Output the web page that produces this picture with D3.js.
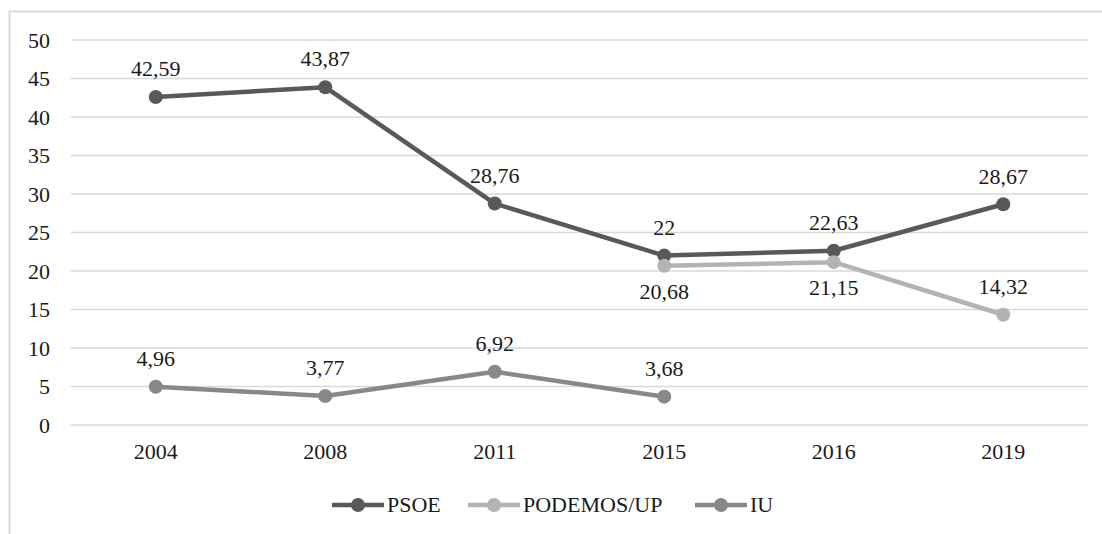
<!DOCTYPE html>
<html lang="es">
<head>
<meta charset="UTF-8">
<title>Voto PSOE, PODEMOS/UP e IU</title>
<script src="https://d3js.org/d3.v7.min.js"></script>
<style>
  body { margin: 0; background: #fff; }
  svg { display: block; }
  .grid line { stroke: #d9d9d9; stroke-width: 1.3; }
  .axis text { font-size: 22px; fill: #1a1a1a; }
  .lbl { font-size: 22px; fill: #1a1a1a; text-anchor: middle; }
</style>
</head>
<body>
<script>
// election years and vote share (%)
const years = ["2004", "2008", "2011", "2015", "2016", "2019"];
const psoe = [42.59, 43.87, 28.76, 22, 22.63, 28.67];
const podemos = [null, null, null, 20.68, 21.15, 14.32];
const iu = [4.96, 3.77, 6.92, 3.68, null, null];
const yTicks = [0, 5, 10, 15, 20, 25, 30, 35, 40, 45, 50];
// where each data label sits: 1 = above the point, -1 = below
const psoeLabelSide = [1, 1, 1, 1, 1, 1];
const podemosLabelSide = [0, 0, 0, -1, -1, 1];
const iuLabelSide = [1, 1, 1, 1, 0, 0];

const series = [
  { name: "PSOE", values: psoe, side: psoeLabelSide, color: "#595959" },
  { name: "PODEMOS/UP", values: podemos, side: podemosLabelSide, color: "#b3b3b3" },
  { name: "IU", values: iu, side: iuLabelSide, color: "#888888" }
];

const serif = "'Liberation Serif', 'Times New Roman', 'DejaVu Serif', serif";
const width = 1102, height = 534;
const svg = d3.select("body").append("svg")
  .attr("width", width).attr("height", height)
  .style("font-family", serif);

// outer frame
svg.append("rect")
  .attr("x", 9.5).attr("y", 11.5)
  .attr("width", 1110).attr("height", 540)
  .attr("fill", "none").attr("stroke", "#d9d9d9").attr("stroke-width", 2);

const x = d3.scaleBand().domain(years).range([71, 1088]);
const y = d3.scaleLinear().domain([0, 50]).range([425, 40]);
const cx = d => x(d) + x.bandwidth() / 2;

// gridlines
svg.append("g").attr("class", "grid")
  .selectAll("line").data(yTicks).join("line")
  .attr("x1", 71).attr("x2", 1088)
  .attr("y1", d => y(d)).attr("y2", d => y(d));

// y axis
const yAxis = svg.append("g").attr("class", "axis")
  .attr("transform", "translate(71,0)")
  .call(d3.axisLeft(y).tickValues(yTicks).tickSize(0).tickPadding(21));
yAxis.attr("font-family", serif).attr("font-size", null);
yAxis.select(".domain").remove();
yAxis.selectAll("text").attr("dy", "0.33em");

// x axis
const xAxis = svg.append("g").attr("class", "axis")
  .attr("transform", "translate(0,425)")
  .call(d3.axisBottom(x).tickSize(0).tickPadding(18));
xAxis.attr("font-family", serif).attr("font-size", null);
xAxis.select(".domain").remove();

const fmt = v => String(v).replace(".", ",");

series.forEach(s => {
  const pts = years.map((yr, i) => ({ yr, v: s.values[i], side: s.side[i] }))
    .filter(p => p.v != null);
  const line = d3.line().x(p => cx(p.yr)).y(p => y(p.v));
  svg.append("path").datum(pts)
    .attr("d", line)
    .attr("fill", "none").attr("stroke", s.color)
    .attr("stroke-width", 4.5).attr("stroke-linejoin", "round");
  svg.append("g").selectAll("circle").data(pts).join("circle")
    .attr("cx", p => cx(p.yr)).attr("cy", p => y(p.v))
    .attr("r", 7).attr("fill", s.color);
  svg.append("g").selectAll("text").data(pts).join("text")
    .attr("class", "lbl")
    .attr("x", p => cx(p.yr))
    .attr("y", p => y(p.v) + (p.side < 0 ? 26 : -28))
    .attr("dy", "0.33em")
    .text(p => fmt(p.v));
});

// legend
const legendX = [332, 468, 695];
const legend = svg.append("g").selectAll("g").data(series).join("g")
  .attr("transform", (d, i) => `translate(${legendX[i]},505)`);
legend.append("line")
  .attr("x1", 0).attr("x2", 52).attr("y1", 0).attr("y2", 0)
  .attr("stroke", d => d.color).attr("stroke-width", 4.5);
legend.append("circle").attr("cx", 26).attr("cy", 0).attr("r", 7)
  .attr("fill", d => d.color);
legend.append("text")
  .attr("x", 55).attr("dy", "0.33em")
  .style("font-size", "22px").style("fill", "#1a1a1a")
  .text(d => d.name);
</script>
</body>
</html>
